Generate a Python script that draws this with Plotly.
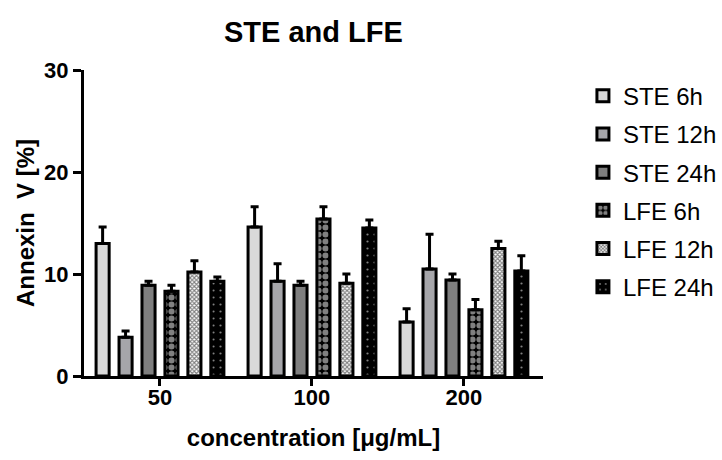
import plotly.graph_objects as go

categories = ["50", "100", "200"]
series_names = ["STE 6h", "STE 12h", "STE 24h", "LFE 6h", "LFE 12h", "LFE 24h"]
ste_6h = [13.0, 14.6, 5.3]
ste_12h = [3.8, 9.3, 10.5]
ste_24h = [8.9, 8.9, 9.4]
lfe_6h = [8.3, 15.4, 6.5]
lfe_12h = [10.2, 9.1, 12.5]
lfe_24h = [9.3, 14.5, 10.3]
ste_6h_err = [1.6, 2.0, 1.3]
ste_12h_err = [0.6, 1.7, 3.4]
ste_24h_err = [0.4, 0.4, 0.6]
lfe_6h_err = [0.6, 1.2, 1.0]
lfe_12h_err = [1.1, 0.9, 0.7]
lfe_24h_err = [0.4, 0.8, 1.5]

values = [ste_6h, ste_12h, ste_24h, lfe_6h, lfe_12h, lfe_24h]
errors = [ste_6h_err, ste_12h_err, ste_24h_err, lfe_6h_err, lfe_12h_err, lfe_24h_err]

styles = [
    dict(color="#d9d9d9"),
    dict(color="#a6a6aa"),
    dict(color="#7f7f7f"),
    dict(color="black", pattern=dict(shape=".", fgcolor="white", bgcolor="black", size=7, solidity=0.6, fillmode="overlay")),
    dict(color="white", pattern=dict(shape="x", fgcolor="black", bgcolor="white", size=3, solidity=0.6, fillmode="overlay")),
    dict(color="black", pattern=dict(shape=".", fgcolor="white", bgcolor="black", size=7, solidity=0.08, fillmode="overlay")),
]

fig = go.Figure()
for i, (name, v, e) in enumerate(zip(series_names, values, errors)):
    st = styles[i]
    marker = dict(color=st["color"], line=dict(color="black", width=3))
    if "pattern" in st:
        marker["pattern"] = st["pattern"]
    fig.add_trace(go.Bar(
        x=categories, y=v, name=name, marker=marker,
        legendgroup=name,
        error_y=dict(type="data", array=e, arrayminus=[0] * len(e), symmetric=False,
                     color="black", thickness=3, width=4),
    ))

font = "Liberation Sans, Arial, sans-serif"
fig.update_layout(
    width=722, height=460,
    margin=dict(l=84, r=179, t=70, b=84, autoexpand=False),
    paper_bgcolor="white", plot_bgcolor="white",
    barmode="group", bargap=0.094, bargroupgap=0.43,
    title=dict(text="<b>STE and LFE</b>", x=0.434, xanchor="center", y=0.93, yanchor="middle",
               font=dict(family=font, size=29, color="black")),
    font=dict(family=font, color="black"),
    legend=dict(x=1.087, xanchor="left", y=0.988, yanchor="top", tracegroupgap=4,
                font=dict(family=font, size=24, color="black"), itemwidth=30),
    xaxis=dict(
        type="category", range=[-0.5, 2.52], showline=True, linecolor="black", linewidth=3,
        ticks="outside", ticklen=7, tickwidth=3, tickcolor="black", ticklabelstandoff=-7,
        tickfont=dict(family=font, size=22, color="black"), showgrid=False, zeroline=False,
        title=dict(text="<b>concentration [μg/mL]</b>", font=dict(family=font, size=24, color="black"), standoff=20),
    ),
    yaxis=dict(
        range=[0, 30], tickvals=[0, 10, 20, 30], ticktext=["<b>0</b>", "<b>10</b>", "<b>20</b>", "<b>30</b>"],
        showline=True, linecolor="black", linewidth=3,
        ticks="outside", ticklen=8, tickwidth=3, tickcolor="black",
        tickfont=dict(family=font, size=22, color="black"), showgrid=False, zeroline=False,
        title=dict(text="<b>Annexin  V [%]</b>", font=dict(family=font, size=24, color="black"), standoff=3),
    ),
)
fig.update_xaxes(ticktext=["<b>%s</b>" % c for c in categories], tickvals=categories)

fig.write_html("out.html", config={"displayModeBar": False},
               post_script="document.body.style.margin='0';document.body.style.overflow='hidden';")
